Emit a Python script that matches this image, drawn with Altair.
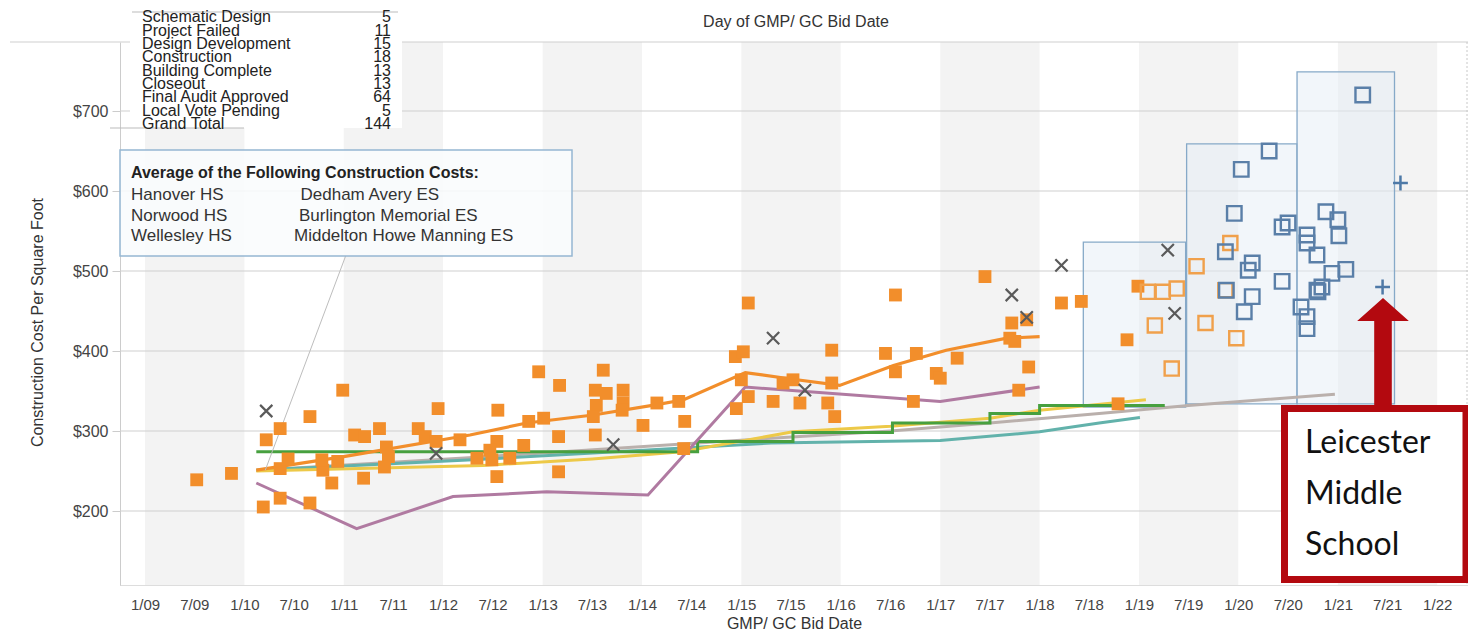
import altair as alt
import pandas as pd

# ---------------- data ----------------
band_years = [2009, 2011, 2013, 2015, 2017, 2019, 2021]
y_ticks = [200, 300, 400, 500, 600, 700]
tick_years = list(range(2009, 2022))

orange_sq_yr = [2009.52, 2009.87, 2010.22, 2010.36, 2010.99, 2010.66, 2010.19, 2010.36, 2010.66, 2010.36,
                2010.44, 2010.79, 2010.88, 2010.94, 2010.78, 2011.20, 2011.11, 2011.21, 2011.36, 2011.43,
                2011.41, 2011.45, 2011.75, 2011.82, 2011.95, 2011.93, 2012.17, 2012.34, 2012.96, 2013.17,
                2013.61, 2012.55, 2012.86, 2013.01, 2013.53, 2013.64, 2013.81, 2013.54, 2013.51, 2013.81,
                2013.80, 2014.15, 2014.37, 2014.01, 2014.43, 2013.16, 2013.53, 2012.81, 2012.54, 2012.47,
                2012.49, 2012.67, 2012.54, 2013.16, 2014.42, 2014.94, 2015.02, 2015.00, 2015.07, 2014.95,
                2015.07, 2015.32, 2015.42, 2015.52, 2015.59, 2015.87, 2015.91, 2015.91, 2016.55, 2016.45,
                2016.55, 2016.76, 2016.73, 2016.96, 2017.00, 2017.17, 2017.45, 2017.72, 2017.87, 2017.70,
                2017.75, 2017.89, 2017.79, 2018.22, 2018.42, 2018.99, 2018.88, 2018.79, 2015.94]
orange_sq_val = [239, 247, 289, 303, 351, 318, 205, 216, 210, 253,
                 265, 251, 235, 262, 264, 241, 295, 293, 303, 280,
                 255, 268, 303, 293, 328, 287, 289, 266, 374, 357,
                 376, 326, 312, 316, 351, 347, 351, 332, 318, 335,
                 326, 335, 337, 307, 312, 293, 295, 282, 287, 276,
                 264, 266, 243, 249, 278, 393, 399, 364, 343, 328,
                 460, 337, 360, 364, 335, 335, 360, 401, 470, 397,
                 374, 397, 337, 372, 366, 391, 493, 435, 439, 416,
                 412, 380, 351, 460, 462, 481, 414, 334, 318]

x_mark_yr = [2010.22, 2011.93, 2013.71, 2015.32, 2015.64, 2017.72, 2017.87, 2018.22, 2019.29, 2019.36]
x_mark_val = [325, 272, 283, 416, 351, 470, 442, 507, 526, 447]

orange_hollow_yr = [2019.09, 2019.24, 2019.38, 2019.16, 2019.33, 2019.58, 2019.67, 2019.92, 2019.87, 2019.98]
orange_hollow_val = [474, 474, 478, 432, 378, 506, 435, 535, 476, 416]

blue_hollow_yr = [2021.25, 2020.31, 2020.03, 2019.96, 2020.44, 2020.50, 2019.87, 2020.10, 2020.14, 2020.44,
                  2020.14, 2020.06, 2020.88, 2021.00, 2021.01, 2020.69, 2020.69, 2020.79, 2020.94, 2021.08,
                  2020.84, 2020.79, 2020.80, 2020.63, 2020.69, 2020.69, 2019.88]
blue_hollow_val = [720, 650, 627, 572, 555, 560, 524, 501, 510, 487,
                   468, 449, 574, 564, 544, 545, 535, 520, 497, 502,
                   480, 476, 474, 455, 443, 428, 476]

plus_yr = [2021.63, 2021.45]
plus_val = [610, 480]

box_yr0 = [2018.44, 2019.48, 2020.59]
box_yr1 = [2019.47, 2020.59, 2021.57]
box_lo = [330, 334, 334]
box_hi = [536, 659, 749]

line_orange_yr = [2010.12, 2011.0, 2012.27, 2012.84, 2013.51, 2014.15, 2014.42, 2015.04, 2015.5, 2015.99, 2016.53, 2017.06, 2017.67, 2018.0]
line_orange_val = [251, 268, 295, 310, 320, 333, 339, 373, 365, 357, 382, 401, 416, 418]
line_purple_yr = [2010.12, 2011.13, 2012.1, 2013.04, 2014.06, 2015.04, 2017.0, 2018.0]
line_purple_val = [235, 178, 218, 224, 220, 355, 337, 355]
line_green_yr = [2010.12, 2014.56, 2015.52, 2016.52, 2017.5, 2018.0, 2019.26]
line_green_val = [274, 287, 298, 310, 322, 332, 332]
line_yellow_yr = [2010.12, 2012.4, 2013.5, 2014.4, 2015.52, 2016.5, 2017.5, 2018.0, 2019.07]
line_yellow_val = [250, 257, 265, 274, 299, 306, 316, 326, 339]
line_grey_yr = [2010.12, 2012.3, 2015.3, 2016.5, 2017.5, 2018.6, 2019.5, 2020.97]
line_grey_val = [251, 267, 291, 300, 310, 322, 332, 346]
line_teal_yr = [2010.12, 2012.3, 2015.3, 2017.0, 2018.0, 2018.6, 2019.01]
line_teal_val = [251, 264, 285, 288, 299, 310, 317]

pointer_yr = [2011.02, 2010.21]
pointer_val = [519, 251]

legend_labels = ["Schematic Design", "Project Failed", "Design Development", "Construction",
                 "Building Complete", "Closeout", "Final Audit Approved", "Local Vote Pending", "Grand Total"]
legend_counts = ["5", "11", "15", "18", "13", "13", "64", "5", "144"]

note_title = "Average of the Following Construction Costs:"
note_left = ["Hanover HS", "Norwood HS", "Wellesley HS"]
note_right = ["Dedham Avery ES", "Burlington Memorial ES", "Middelton Howe Manning ES"]
callout_lines = ["Leicester", "Middle", "School"]

x_domain = [2008.7485, 2022.31]
y_domain = [107.5, 786.25]


# ---------------- helpers ----------------
def yr2ts(y):
    year = int(y // 1)
    s = pd.Timestamp(year=year, month=1, day=1)
    e = pd.Timestamp(year=year + 1, month=1, day=1)
    return s + (e - s) * (y - year)


def yr2dt(y):
    t = yr2ts(y)
    return alt.DateTime(year=t.year, month=t.month, date=t.day, hours=t.hour)


FONT = "Liberation Sans"
W, H = 1348, 543

xscale = alt.Scale(domain=[yr2dt(x_domain[0]), yr2dt(x_domain[1])], nice=False)
yscale = alt.Scale(domain=y_domain, nice=False, zero=False)

tick_vals = []
for yy in tick_years:
    tick_vals.append(alt.DateTime(year=yy, month=1, date=1))
    tick_vals.append(alt.DateTime(year=yy, month=7, date=1))
tick_vals.append(alt.DateTime(year=2022, month=1, date=1))

xaxis = alt.Axis(values=tick_vals, format="%-m/%y", title="GMP/ GC Bid Date", grid=False,
                 labelFont=FONT, labelFontSize=15, labelColor="#444", labelPadding=12,
                 tickSize=0, domainColor="#bbb", domainDash=[1, 1],
                 titleFont=FONT, titleFontSize=16, titleFontWeight="normal", titleColor="#333",
                 titleY=38, titleBaseline="middle")
yaxis = alt.Axis(values=y_ticks, format="$.0f", title="Construction Cost Per Square Foot", grid=False,
                 labelFont=FONT, labelFontSize=16, labelColor="#444", labelPadding=4,
                 tickSize=8, tickColor="#ccc", domainColor="#ccc",
                 titleFont=FONT, titleFontSize=16, titleFontWeight="normal", titleColor="#333",
                 titleX=-83, titleY=280, titleAngle=-90, titleBaseline="middle", titleAlign="center")


def pts(yrs, vals):
    return pd.DataFrame({"date": [yr2ts(v) for v in yrs], "val": vals})


one = alt.Data(values=[{"k": 0}])

# ---------------- layers ----------------
bands_df = pd.DataFrame({"start": [pd.Timestamp(year=y, month=1, day=1) for y in band_years],
                         "end": [pd.Timestamp(year=y + 1, month=1, day=1) for y in band_years]})
bands = alt.Chart(bands_df).mark_rect(color="#f3f3f3").encode(
    x=alt.X("start:T", scale=xscale, axis=xaxis),
    x2="end:T",
    y=alt.value(0), y2=alt.value(H))

grid = alt.Chart(pd.DataFrame({"v": y_ticks})).mark_rule(color="#cfcfcf", strokeWidth=1.2).encode(
    y=alt.Y("v:Q", scale=yscale, axis=yaxis))

top_line = alt.Chart(one).mark_rule(color="#cfcfcf", strokeWidth=1.2).encode(
    x=alt.value(-110), x2=alt.value(W + 8), y=alt.value(0))
right_line = alt.Chart(one).mark_rule(color="#c8c8c8", strokeDash=[2, 2]).encode(
    x=alt.value(W - 1), y=alt.value(0), y2=alt.value(H))

boxes_df = pd.DataFrame({"a": [yr2ts(v) for v in box_yr0], "b": [yr2ts(v) for v in box_yr1],
                         "lo": box_lo, "hi": box_hi})
boxes = alt.Chart(boxes_df).mark_rect(fill="#e6eef5", fillOpacity=0.5, stroke="#86a9c8", strokeWidth=1.3).encode(
    x=alt.X("a:T", scale=xscale), x2="b:T",
    y=alt.Y("lo:Q", scale=yscale), y2="hi:Q")


def line(yrs, vals, color, width=3.0, interp="linear"):
    return alt.Chart(pts(yrs, vals)).mark_line(color=color, strokeWidth=width, interpolate=interp).encode(
        x=alt.X("date:T", scale=xscale), y=alt.Y("val:Q", scale=yscale))


lines = [
    line(line_grey_yr, line_grey_val, "#bab0ac"),
    line(line_teal_yr, line_teal_val, "#62b2ab"),
    line(line_yellow_yr, line_yellow_val, "#edc948"),
    line(line_green_yr, line_green_val, "#47a03f", interp="step-after"),
    line(line_purple_yr, line_purple_val, "#b07aa1"),
    line(line_orange_yr, line_orange_val, "#f28e2b", width=3.2),
]

enc = dict(x=alt.X("date:T", scale=xscale), y=alt.Y("val:Q", scale=yscale))

filled = alt.Chart(pts(orange_sq_yr, orange_sq_val)).mark_square(
    size=165, color="#f28e2b", opacity=1).encode(**enc)
hollow_o = alt.Chart(pts(orange_hollow_yr, orange_hollow_val)).mark_point(
    shape="square", filled=False, size=200, stroke="#f0a04b", strokeWidth=2.4, opacity=1).encode(**enc)
hollow_b = alt.Chart(pts(blue_hollow_yr, blue_hollow_val)).mark_point(
    shape="square", filled=False, size=210, stroke="#5a7fa8", strokeWidth=2.4, opacity=1).encode(**enc)
xmarks = alt.Chart(pts(x_mark_yr, x_mark_val)).mark_point(
    shape="M -1 -1 L 1 1 M -1 1 L 1 -1", filled=False, size=150, stroke="#5a5a5a",
    strokeWidth=2.2, opacity=1).encode(**enc)
pluses = alt.Chart(pts(plus_yr, plus_val)).mark_point(
    shape="M -1 0 L 1 0 M 0 -1 L 0 1", filled=False, size=220, stroke="#4e79a7",
    strokeWidth=2.5, opacity=1).encode(**enc)

pointer_df = pd.DataFrame({"d0": [yr2ts(pointer_yr[0])], "d1": [yr2ts(pointer_yr[1])],
                           "v0": [pointer_val[0]], "v1": [pointer_val[1]]})
pointer = alt.Chart(pointer_df).mark_rule(color="#bdbdbd", strokeWidth=1).encode(
    x=alt.X("d0:T", scale=xscale), x2="d1:T", y=alt.Y("v0:Q", scale=yscale), y2="v1:Q")

# annotation box
note_box = alt.Chart(one).mark_rect(fill="#f9fbfd", fillOpacity=0.85, stroke="#95b7d2", strokeWidth=1.5).encode(
    x=alt.value(0), x2=alt.value(452), y=alt.value(108), y2=alt.value(214))
note_t = alt.Chart(one).mark_text(text=note_title, font=FONT, fontSize=16, fontWeight="bold", color="#222",
                                  align="left", baseline="middle").encode(x=alt.value(11), y=alt.value(131))
note_l = alt.Chart(one).mark_text(text=note_left, font=FONT, fontSize=17, color="#333", align="left",
                                  baseline="middle", lineHeight=20.5).encode(x=alt.value(11), y=alt.value(153))
note_r = [alt.Chart(one).mark_text(text=t, font=FONT, fontSize=17, color="#333", align="left",
                                   baseline="middle").encode(x=alt.value(xx), y=alt.value(yy))
          for t, xx, yy in zip(note_right, [180.5, 179, 174], [153, 173.5, 194])]

# status legend table
leg_box = alt.Chart(one).mark_rect(fill="white").encode(
    x=alt.value(10), x2=alt.value(282), y=alt.value(-34), y2=alt.value(86))
leg_top = alt.Chart(one).mark_rule(color="#bbb").encode(x=alt.value(12), x2=alt.value(278), y=alt.value(-30))
leg_bot = alt.Chart(one).mark_rule(color="#bbb").encode(x=alt.value(-10), x2=alt.value(124), y=alt.value(86))
leg_l = alt.Chart(one).mark_text(text=legend_labels, font=FONT, fontSize=16, color="#222", align="left",
                                 baseline="middle", lineHeight=13.35).encode(x=alt.value(22), y=alt.value(-24.7))
leg_r = alt.Chart(one).mark_text(text=legend_counts, font=FONT, fontSize=16, color="#222", align="right",
                                 baseline="middle", lineHeight=13.35).encode(x=alt.value(271), y=alt.value(-24.7))

top_title = alt.Chart(one).mark_text(text="Day of GMP/ GC Bid Date", font=FONT, fontSize=16, color="#333",
                                     align="center", baseline="middle").encode(x=alt.value(676), y=alt.value(-20))

# red callout
arrow = alt.Chart(one).mark_point(
    shape="M 0 -0.982 L 0.47 -0.564 L 0.16 -0.564 L 0.16 0.982 L -0.16 0.982 L -0.16 -0.564 L -0.47 -0.564 Z",
    filled=True, fill="#b3090f", strokeWidth=0, size=12100, opacity=1).encode(x=alt.value(1263), y=alt.value(310))
red_box = alt.Chart(one).mark_rect(fill="white", stroke="#b3090f", strokeWidth=7).encode(
    x=alt.value(1164.5), x2=alt.value(1346), y=alt.value(366.5), y2=alt.value(537.5))
red_text = alt.Chart(one).mark_text(text=callout_lines, font="Lato", fontSize=32, color="#111", align="left",
                                    baseline="middle", lineHeight=51).encode(x=alt.value(1185), y=alt.value(401))

chart = alt.layer(
    bands, grid, top_line, right_line, boxes, *lines, pointer,
    filled, hollow_o, xmarks, hollow_b, pluses,
    note_box, note_t, note_l, *note_r,
    leg_box, leg_top, leg_bot, leg_l, leg_r, top_title,
    arrow, red_box, red_text,
).properties(
    width=W, height=H,
    autosize=alt.AutoSizeParams(type="none"),
    padding={"left": 112, "top": 34, "right": 0, "bottom": 47},
    background="white",
).configure_view(stroke=None)

chart.save("out.html", embed_options={"renderer": "svg", "actions": False})
